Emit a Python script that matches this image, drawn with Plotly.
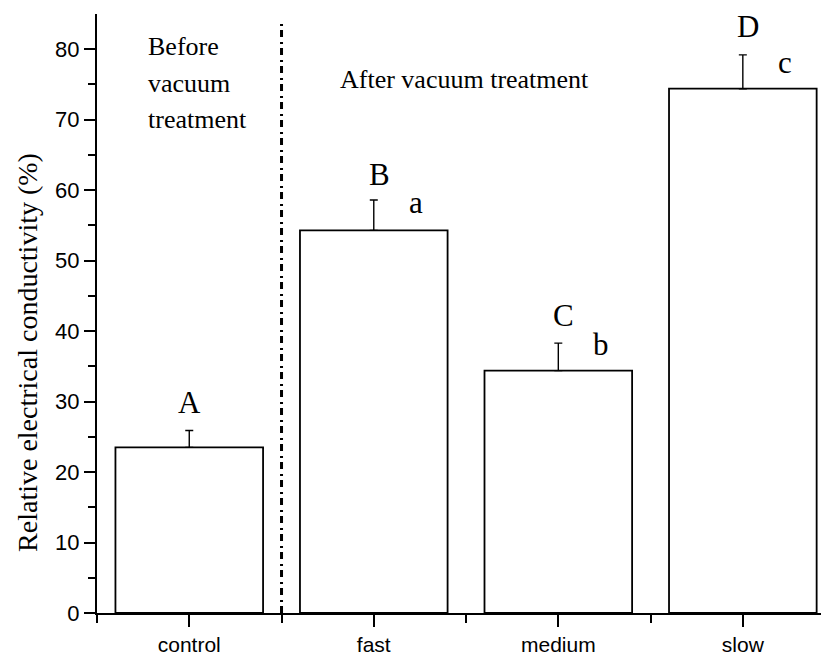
import plotly.graph_objects as go

categories = ["control", "fast", "medium", "slow"]
means = [23.5, 54.3, 34.4, 74.4]
errors = [2.4, 4.3, 3.9, 4.8]
group_letters = ["A", "B", "C", "D"]
within_letters = ["", "a", "b", "c"]

xpos = list(range(len(categories)))

fig = go.Figure()
fig.add_trace(go.Bar(
    x=xpos, y=means, width=0.8,
    marker=dict(color="white", line=dict(color="black", width=1.8)),
    error_y=dict(type="data", array=errors, arrayminus=[0]*4, symmetric=False,
                 color="black", thickness=1.4, width=4),
    showlegend=False,
))

serif = "Liberation Serif, Times New Roman, serif"
sans = "Liberation Sans, Arial, sans-serif"

# Upper-case letters above error bars
upper_y = [29.9, 62.2, 42.2, 83.2]
for i, (lt, yy) in enumerate(zip(group_letters, upper_y)):
    fig.add_annotation(x=xpos[i] + (0.0 if i == 0 else 0.03), y=yy, xref="x", yref="y",
                       text=lt, showarrow=False, xanchor="center", yanchor="middle",
                       font=dict(family=serif, size=31, color="black"))
lower_y = [None, 58.2, 38.1, 78.1]
for i, (lt, yy) in enumerate(zip(within_letters, lower_y)):
    if lt:
        fig.add_annotation(x=xpos[i] + 0.23, y=yy, xref="x", yref="y",
                           text=lt, showarrow=False, xanchor="center", yanchor="middle",
                           font=dict(family=serif, size=31, color="black"))

# Section labels
for txt, yy in zip(["Before", "vacuum", "treatment"], [80.4, 75.2, 70.1]):
    fig.add_annotation(x=-0.234, y=yy, xref="x", yref="y", text=txt, showarrow=False,
                       xanchor="left", yanchor="middle",
                       font=dict(family=serif, size=26, color="black"))
fig.add_annotation(x=1.489, y=75.7, xref="x", yref="y", text="After vacuum treatment",
                   showarrow=False, xanchor="center", yanchor="middle",
                   font=dict(family=serif, size=26, color="black"))

# Y-axis title
fig.add_annotation(x=-0.095, y=0.435, xref="paper", yref="paper",
                   text="Relative electrical conductivity (%)", textangle=-90,
                   showarrow=False, xanchor="center", yanchor="middle",
                   font=dict(family=serif, size=28, color="black"))

# Dash-dot separator
fig.add_shape(type="line", x0=0.5, x1=0.5, y0=0, y1=84, xref="x", yref="y",
              line=dict(color="black", width=3, dash="7px,4px,2px,5px"))

# page body has an 8px margin; size figure so the plot lands where the reference has it
fig.update_layout(
    width=821, height=648,
    margin=dict(l=89, r=0, t=6, b=43),
    plot_bgcolor="white", paper_bgcolor="white",
    bargap=0.2,
)
fig.update_xaxes(
    range=[-0.5, 3.467], tickvals=xpos, ticktext=categories,
    showline=True, linecolor="black", linewidth=2,
    ticks="outside", ticklen=12, tickwidth=2, tickcolor="black",
    minor=dict(tickvals=[-0.5, 0.5, 1.5, 2.5], ticks="outside", ticklen=8, tickwidth=2, tickcolor="black"),
    showgrid=False, zeroline=False,
    tickfont=dict(family=sans, size=21, color="black"),
)
fig.update_yaxes(
    range=[0, 85], tickvals=[0, 10, 20, 30, 40, 50, 60, 70, 80],
    showline=True, linecolor="black", linewidth=2,
    ticks="outside", ticklen=11, tickwidth=2, tickcolor="black",
    minor=dict(tickvals=[5, 15, 25, 35, 45, 55, 65, 75], ticks="outside", ticklen=7, tickwidth=2, tickcolor="black"),
    showgrid=False, zeroline=False,
    tickfont=dict(family=sans, size=22, color="black"),
)

fig.write_html("out.html")
